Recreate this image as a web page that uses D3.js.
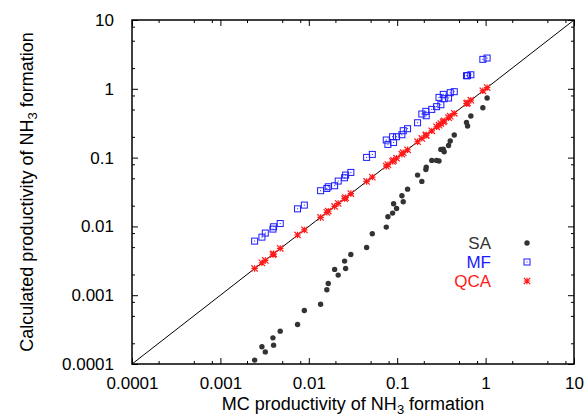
<!DOCTYPE html>
<html>
<head>
<meta charset="utf-8">
<script src="https://cdn.jsdelivr.net/npm/d3@7"></script>
<style>
  html, body { margin: 0; padding: 0; background: #fff; }
  svg { display: block; font-family: "Liberation Sans", Arial, Helvetica, sans-serif; }
</style>
</head>
<body>
<svg id="chart" width="588" height="417"></svg>
<script>
// ---- data ----
const mcValues = [0.00244,0.00295,0.00322,0.00393,0.0040,0.00475,0.00746,0.0089,0.0136,0.0160,0.0166,0.0196,0.0215,0.0254,0.0261,0.0299,0.0451,0.0523,0.0752,0.0785,0.0887,0.0910,0.0984,0.113,0.117,0.131,0.170,0.190,0.211,0.213,0.246,0.279,0.297,0.312,0.332,0.340,0.381,0.398,0.442,0.608,0.625,0.681,0.931,1.04];
const saValues = [0.000114,0.000178,0.000150,0.00024,0.000188,0.0003,0.000375,0.0006,0.00074,0.0012,0.00148,0.00237,0.00196,0.00313,0.00245,0.00391,0.00494,0.00782,0.00977,0.0138,0.0156,0.0213,0.0182,0.0279,0.0228,0.0348,0.0557,0.0451,0.0673,0.0728,0.091,0.091,0.0891,0.1315,0.133,0.1216,0.150,0.174,0.213,0.325,0.288,0.402,0.531,0.734];
const mfValues = [0.00611,0.00698,0.0080,0.00914,0.00988,0.0110,0.0180,0.0204,0.0330,0.0356,0.0377,0.039,0.0456,0.0509,0.0557,0.0609,0.1007,0.1113,0.180,0.1556,0.201,0.166,0.201,0.215,0.246,0.263,0.321,0.430,0.470,0.406,0.502,0.550,0.750,0.587,0.830,0.718,0.734,0.877,0.908,1.55,1.55,1.60,2.68,2.80];
const qcaValues = [0.00245,0.00295,0.0032,0.0039,0.0040,0.0048,0.0075,0.0089,0.0135,0.0160,0.0167,0.0195,0.0216,0.0253,0.0262,0.0300,0.0450,0.0520,0.0750,0.0790,0.0880,0.0915,0.0980,0.112,0.118,0.130,0.170,0.190,0.210,0.214,0.245,0.280,0.296,0.313,0.330,0.342,0.380,0.400,0.440,0.610,0.622,0.683,0.935,1.04];
const majorTicks = [0.0001, 0.001, 0.01, 0.1, 1, 10];
const tickLabels = ["0.0001", "0.001", "0.01", "0.1", "1", "10"];
const minorMultipliers = [2, 5, 8];
const seriesNames = ["SA", "MF", "QCA"];
const seriesColors = ["#333333", "#1a1aff", "#ff1a1a"];

// ---- layout ----
const svg = d3.select("#chart");
const plotL = 132, plotR = 574, plotT = 20, plotB = 364;
const x = d3.scaleLog().domain([0.0001, 10]).range([plotL, plotR]);
const y = d3.scaleLog().domain([0.0001, 10]).range([plotB, plotT]);

const minorTicks = [];
majorTicks.slice(0, -1).forEach(t => minorMultipliers.forEach(m => minorTicks.push(t * m)));

const fmt = (d) => tickLabels[majorTicks.findIndex(t => Math.abs(t - d) / d < 1e-6)] || "";
function drawAxis(axisGen, transform) {
  const g = svg.append("g").attr("transform", transform).call(axisGen);
  g.select(".domain").remove();
  g.selectAll("line").attr("stroke", "#000").attr("stroke-width", 1);
  return g;
}
// major ticks (inward) with labels
const xb = drawAxis(d3.axisBottom(x).tickValues(majorTicks).tickSize(-6).tickPadding(13).tickFormat(fmt), `translate(0,${plotB})`);
xb.selectAll("text").attr("font-size", 17).attr("fill", "#000").attr("font-family", "Liberation Sans, Arial, sans-serif");
drawAxis(d3.axisTop(x).tickValues(majorTicks).tickSize(-6).tickFormat(""), `translate(0,${plotT})`);
const yl = drawAxis(d3.axisLeft(y).tickValues(majorTicks).tickSize(-6).tickPadding(18).tickFormat(fmt), `translate(${plotL},0)`);
yl.selectAll("text").attr("font-size", 17).attr("fill", "#000").attr("font-family", "Liberation Sans, Arial, sans-serif");
drawAxis(d3.axisRight(y).tickValues(majorTicks).tickSize(-6).tickFormat(""), `translate(${plotR},0)`);
// minor ticks
drawAxis(d3.axisBottom(x).tickValues(minorTicks).tickSize(-3).tickFormat(""), `translate(0,${plotB})`);
drawAxis(d3.axisTop(x).tickValues(minorTicks).tickSize(-3).tickFormat(""), `translate(0,${plotT})`);
drawAxis(d3.axisLeft(y).tickValues(minorTicks).tickSize(-3).tickFormat(""), `translate(${plotL},0)`);
drawAxis(d3.axisRight(y).tickValues(minorTicks).tickSize(-3).tickFormat(""), `translate(${plotR},0)`);

// diagonal y = x
svg.append("line")
  .attr("x1", x(0.0001)).attr("y1", y(0.0001))
  .attr("x2", x(10)).attr("y2", y(10))
  .attr("stroke", "#000").attr("stroke-width", 1);

// frame
svg.append("rect").attr("x", plotL).attr("y", plotT)
  .attr("width", plotR - plotL).attr("height", plotB - plotT)
  .attr("fill", "none").attr("stroke", "#000").attr("stroke-width", 1.5);

// marker drawers
function drawCircle(g, cx, cy, color) {
  g.append("circle").attr("cx", cx).attr("cy", cy).attr("r", 2.7).attr("fill", color);
}
function drawSquare(g, cx, cy, color) {
  g.append("rect").attr("x", cx - 3).attr("y", cy - 3).attr("width", 6).attr("height", 6)
    .attr("fill", "none").attr("stroke", color).attr("stroke-width", 1);
  g.append("rect").attr("x", cx - 0.5).attr("y", cy - 0.5).attr("width", 1).attr("height", 1).attr("fill", color);
}
function drawStar(g, cx, cy, color) {
  const s = 3.2;
  const p = `M${cx - s},${cy}L${cx + s},${cy}M${cx},${cy - s}L${cx},${cy + s}` +
            `M${cx - s},${cy - s}L${cx + s},${cy + s}M${cx - s},${cy + s}L${cx + s},${cy - s}`;
  g.append("path").attr("d", p).attr("stroke", color).attr("stroke-width", 1.2).attr("fill", "none");
}
const drawers = [drawCircle, drawSquare, drawStar];
const seriesValues = [saValues, mfValues, qcaValues];

seriesValues.forEach((vals, si) => {
  const g = svg.append("g").attr("class", "series-" + seriesNames[si]);
  vals.forEach((v, i) => drawers[si](g, x(mcValues[i]), y(v), seriesColors[si]));
});

// legend
const legendY = [243, 262, 281];
seriesNames.forEach((name, i) => {
  svg.append("text").attr("x", 491).attr("y", legendY[i]).attr("dy", "0.35em")
    .attr("text-anchor", "end").attr("font-size", 17).attr("fill", seriesColors[i]).text(name);
  drawers[i](svg, 527, legendY[i], seriesColors[i]);
});

// axis titles
const xt = svg.append("text").attr("x", (plotL + plotR) / 2).attr("y", 410)
  .attr("text-anchor", "middle").attr("font-size", 18).attr("fill", "#000");
xt.append("tspan").text("MC productivity of NH");
xt.append("tspan").attr("font-size", 13).attr("dy", 4).text("3");
xt.append("tspan").attr("dy", -4).text(" formation");

const yt = svg.append("text").attr("transform", `translate(33,${(plotT + plotB) / 2}) rotate(-90)`)
  .attr("text-anchor", "middle").attr("font-size", 18).attr("fill", "#000");
yt.append("tspan").text("Calculated productivity of NH");
yt.append("tspan").attr("font-size", 13).attr("dy", 4).text("3");
yt.append("tspan").attr("dy", -4).text(" formation");
</script>
</body>
</html>
